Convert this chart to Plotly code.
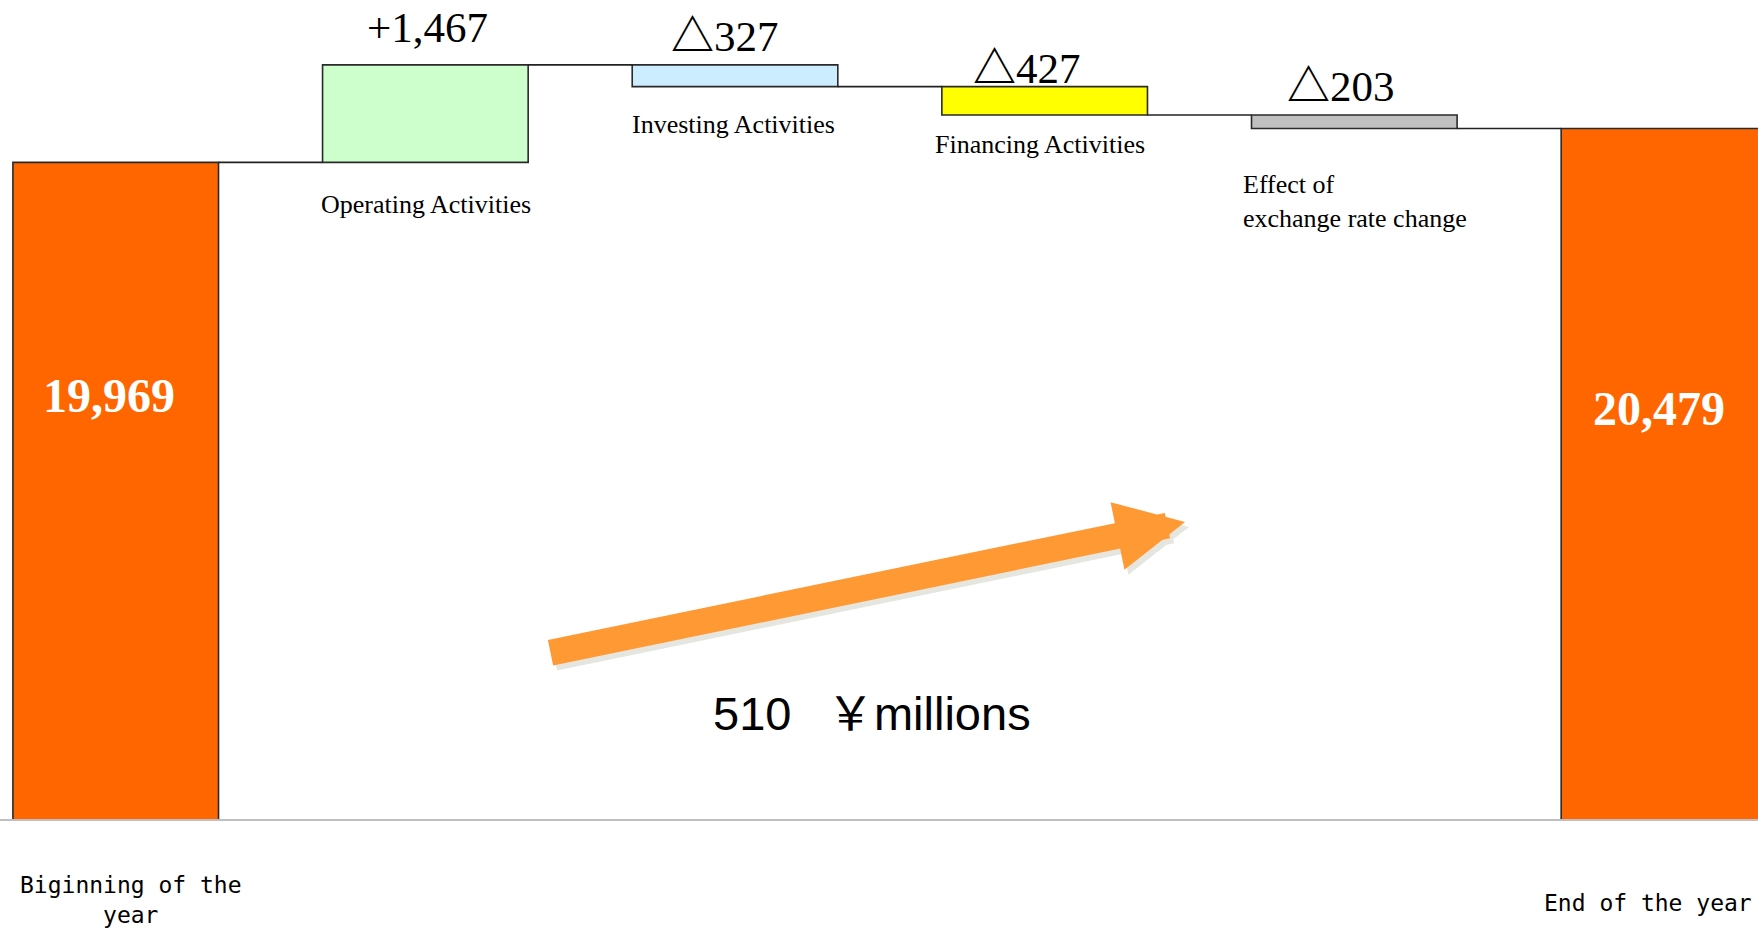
import plotly.graph_objects as go

# ---------------- data ----------------
categories = ["Biginning of the<br>year", "Operating Activities", "Investing Activities",
              "Financing Activities", "Effect of<br>exchange rate change", "End of the year"]
measures = ["absolute", "relative", "relative", "relative", "relative", "total"]
values = [19969, 1467, -327, -427, -203, 20479]
value_labels = ["19,969", "+1,467", "△327", "△427", "△203", "20,479"]
bar_colors = ["#FF6600", "#CCFFCC", "#CCECFF", "#FFFF00", "#C0C0C0", "#FF6600"]
net_change_label = "510\u00a0\u00a0\u2009￥millions"

# ---------------- derived geometry (from data) ----------------
bases, heights, levels = [], [], []
level = 0
for m, v in zip(measures, values):
    if m in ("absolute", "total"):
        bases.append(0)
        heights.append(v)
        level = v
    else:
        bases.append(level)
        heights.append(v)
        level += v
    levels.append(level)

tops = [max(b, b + h) for b, h in zip(bases, heights)]
bottoms = [min(b, b + h) for b, h in zip(bases, heights)]
xs = list(range(len(categories)))

W = 0.664  # bar width in category units

fig = go.Figure()

fig.add_trace(go.Bar(
    x=xs, y=heights, base=bases, width=W,
    marker=dict(color=bar_colors, line=dict(color="#2a2a2a", width=1.6)),
    hoverinfo="skip", showlegend=False,
))

# connector lines between consecutive bars
cx, cy = [], []
for i in range(len(xs) - 1):
    cx += [xs[i] + W / 2, xs[i + 1] - W / 2, None]
    cy += [levels[i], levels[i], None]
fig.add_trace(go.Scatter(x=cx, y=cy, mode="lines",
                         line=dict(color="#222222", width=1.6),
                         hoverinfo="skip", showlegend=False))

annotations = []
SERIF = "Liberation Serif, Times New Roman, DejaVu Sans, serif"


def fmt_delta(label):
    # render the triangle mark with a heavier CJK glyph
    if label.startswith("△"):
        return ("<span style=\"font-family:'Noto Sans CJK JP';font-weight:bold\">△</span>"
                + label[1:])
    return label


# delta value labels above the middle bars
delta_style = {1: dict(xshift=2, yshift=12),
               2: dict(xshift=-10, yshift=-0.5),
               3: dict(xshift=-18, yshift=-10.5),
               4: dict(xshift=-13, yshift=-0.5)}
for i, st in delta_style.items():
    annotations.append(dict(
        x=xs[i], y=tops[i], xref="x", yref="y", text=fmt_delta(value_labels[i]),
        showarrow=False, xanchor="center", yanchor="bottom",
        xshift=st["xshift"], yshift=st["yshift"],
        font=dict(family=SERIF, size=43, color="#000000")))

# category names below the middle bars
name_style = {1: dict(xshift=1, yshift=-26, anchor="center"),
              2: dict(xshift=-1.5, yshift=-21, anchor="center"),
              3: dict(xshift=-5, yshift=-13, anchor="center"),
              4: dict(xshift=-11, yshift=-40, anchor="left")}
for i, st in name_style.items():
    xpos = xs[i] if st["anchor"] == "center" else xs[i] - W / 2
    annotations.append(dict(
        x=xpos, y=bottoms[i], xref="x", yref="y", text=categories[i],
        showarrow=False, xanchor=st["anchor"], yanchor="top", align="left",
        xshift=st["xshift"], yshift=st["yshift"],
        font=dict(family=SERIF, size=26, color="#000000")))

# totals inside the orange bars
total_style = {0: dict(xshift=-7, y=1 - 395.5 / 819),
               5: dict(xshift=-5, y=1 - 408 / 819)}
for i, st in total_style.items():
    annotations.append(dict(
        x=xs[i], y=st["y"], xref="x", yref="paper", text="<b>" + value_labels[i] + "</b>",
        showarrow=False, xanchor="center", yanchor="middle", xshift=st["xshift"],
        font=dict(family=SERIF, size=48, color="#FFFFFF")))

# axis category labels for the end bars
axis_style = {0: dict(xshift=15, yshift=-51),
              5: dict(xshift=-16, yshift=-69)}
for i, st in axis_style.items():
    annotations.append(dict(
        x=xs[i], y=0, xref="x", yref="paper", text=categories[i],
        showarrow=False, xanchor="center", yanchor="top", align="center",
        xshift=st["xshift"], yshift=st["yshift"],
        font=dict(family="DejaVu Sans Mono, monospace", size=23, color="#000000")))

# net change arrow (shadow + arrow) and its label
tip_x, tip_y = 1185 / 1758, 1 - 522 / 819
for dx, dy, col in [(4, 5, "#E6E6E0"), (0, 0, "#FF9933")]:
    annotations.append(dict(
        x=tip_x + dx / 1758, y=tip_y - dy / 819, xref="paper", yref="paper",
        ax=-636, ay=131, text="", showarrow=True, arrowhead=2,
        arrowsize=0.53, arrowwidth=26, arrowcolor=col, standoff=0))

annotations.append(dict(
    x=872 / 1758, y=1 - 713.5 / 819, xref="paper", yref="paper",
    text=net_change_label, showarrow=False, xanchor="center", yanchor="middle",
    font=dict(family="Liberation Sans, Arial, Noto Sans CJK JP, sans-serif",
              size=47, color="#000000")))

fig.update_layout(
    width=1758, height=936, autosize=False,
    margin=dict(l=0, r=0, t=0, b=117),
    paper_bgcolor="#FFFFFF", plot_bgcolor="#FFFFFF",
    showlegend=False, hovermode=False,
    annotations=annotations,
    xaxis=dict(range=[-0.3737, 5.3037], showgrid=False, zeroline=False,
               showticklabels=False, ticks="", showline=True,
               linecolor="#BFBFBF", linewidth=2, fixedrange=True),
    yaxis=dict(range=[10087, 22412], showgrid=False, zeroline=False,
               showticklabels=False, ticks="", showline=False, fixedrange=True),
)

fig.write_html("out.html", config={"displayModeBar": False},
               post_script="document.body.style.margin='0';document.body.style.overflow='hidden';")
